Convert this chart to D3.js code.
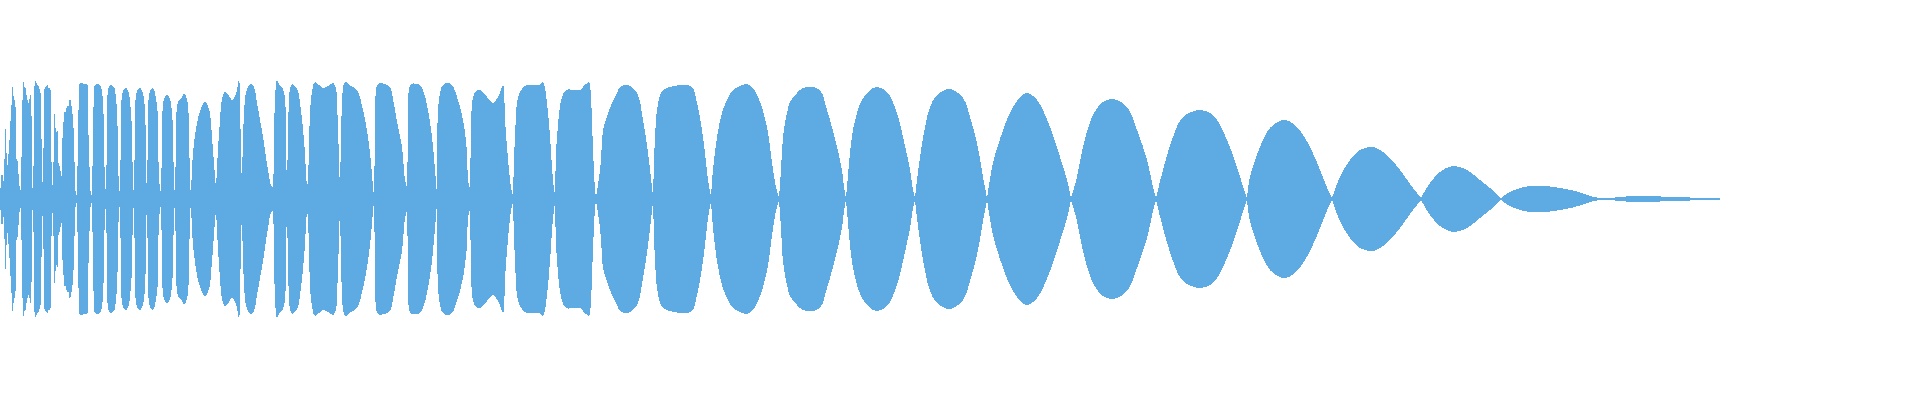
<!DOCTYPE html>
<html>
<head>
<meta charset="utf-8">
<style>
  html, body { margin: 0; padding: 0; background: #fff; }
  svg { display: block; }
</style>
</head>
<body>
<div id="wave"></div>
<script src="https://cdn.jsdelivr.net/npm/d3@7"></script>
<script>
// envelope peaks of the waveform, [time (ms), peak level]
const onset = [
  [0,8],[1,15],[2,32],[3,12],[4,25],[5,56],[6,77],[7,30],[8,40],[9,50],
  [10,69],[11,85],[12,102],[13,117],[14,95],[15,102],[16,60],[17,36],[18,40],[19,15],
  [20,12],[21,5],[22,70],[23,111],[24,119],[25,105],[26,116],[27,95],[28,102],[29,90],
  [30,106],[31,100],[32,19],[33,5],[34,60],[35,117],[36,119],[37,112],[38,116],[39,110],
  [40,109],[41,90],[42,29],[43,8],[44,80],[45,114],[46,110],[47,116],[48,112],[49,110],
  [50,112],[51,75],[52,20],[53,10],[54,60],[55,97],[56,50],[57,80],[58,52],[59,30],
  [60,36],[61,6],[62,40],[63,72],[64,80],[65,90],[66,85],[67,96],[68,90],[69,96],
  [70,100],[71,96],[72,90],[73,80],[74,60],[75,19],[76,5],[77,3],[78,60],[79,105],
  [80,116],[84,115],[87,115],[88,80],[89,50],[90,19],[91,5],[92,3]
];

const beats = [
  [93,60],[94,105],[95,114],[98,115],[101,112],[103,96],[104,60],[105,16],[106,5],
  [107,60],[108,108],[110,114],[114,112],[116,100],[117,89],[118,50],[119,12],[120,5],
  [121,60],[123,108],[126,111],[129,105],[131,85],[132,70],[133,15],[134,5],
  [135,60],[137,108],[140,111],[143,105],[145,89],[146,30],[147,5],
  [148,60],[150,108],[153,111],[156,100],[158,82],[159,20],[161,5],
  [162,50],[164,100],[167,104],[170,100],[172,85],[173,70],[174,15],[175,5],
  [176,50],[178,97],[181,100],[184,105],[187,100],[189,69],[190,16],[191,4],
  [193,46],[197,76],[200,88],[205,97],[209,90],[212,62],[214,35],[216,10],
  [218,50],[220,79],[222,100],[225,107],[229,103],[232,99],[236,105],[239,119],[240,100],[241,40],[242,15],
  [243,60],[245,100],[247,110],[251,115],[254,112],[257,96],[263,62],[268,29],[271,14],[273,12],
  [274,40],[275,100],[277,119],[280,113],[283,110],[285,100],[286,50],[287,9],
  [288,60],[290,110],[292,115],[295,113],[298,108],[300,96],[303,70],[305,46],[307,16],[308,15],
  [309,50],[311,100],[315,117],[319,114],[323,111],[328,113],[333,116],[336,110],[337,96],[339,40],[340,3],
  [341,60],[343,110],[345,117],[351,113],[357,109],[363,89],[367,68],[370,46],[373,12],[374,2],
  [375,60],[376,108],[378,115],[385,115],[390,112],[393,100],[395,89],[398,72],[402,52],[405,19],[407,12],
  [408,60],[409,110],[411,115],[420,114],[423,109],[428,89],[432,62],[435,29],[437,4],
  [439,100],[443,114],[448,116],[452,114],[457,102],[463,79],[467,46],[468,19],[470,10],
  [471,60],[473,102],[477,109],[480,109],[487,102],[493,96],[498,102],[503,114],[505,80],[508,40],[511,12],[513,3],
  [515,62],[518,102],[522,110],[527,114],[535,114],[540,114],[543,117],[547,96],[550,62],[553,19],[555,4],
  [557,62],[562,102],[566,109],[575,109],[580,109],[583,112],[586,115],[589,117],[591,100],[593,50],[595,10],[596,2]
];

const swells = [
  [600,29],[602,56],[603,69],[607,82],[610,91],[617,106],[620,112],[628,114],[637,106],[643,79],[648,46],[652,12],[653,2],
  [655,62],[657,89],[660,104],[663,109],[670,112],[683,114],[692,112],[697,96],[702,69],[705,46],[708,19],[711,2],
  [713,29],[717,62],[722,86],[727,99],[733,109],[740,113],[747,115],[752,112],[757,104],[760,97],[763,88],[767,72],[770,52],[773,29],[776,12],[779,1],
  [781,29],[783,62],[787,86],[790,97],[797,106],[803,111],[812,112],[820,109],[827,89],[830,79],[837,52],[842,29],[844,12],[846,1],
  [847,12],[850,46],[853,69],[857,86],[862,99],[870,109],[877,112],[887,107],[897,86],[903,62],[910,29],[913,9],[915,1],
  [917,19],[920,42],[925,72],[930,92],[937,104],[950,110],[963,101],[970,82],[977,56],[983,22],[987,1],
  [993,36],[1000,60],[1010,86],[1020,102],[1027,106],[1037,99],[1050,72],[1060,42],[1067,19],[1071,1],
  [1077,22],[1083,52],[1093,84],[1103,97],[1113,100],[1127,92],[1137,69],[1147,39],[1153,12],[1156,1]
];

const decay = [
  [1163,29],[1173,62],[1183,82],[1200,89],[1213,84],[1227,59],[1237,32],[1245,6],[1247,1],
  [1250,22],[1260,52],[1270,71],[1280,78],[1286,79],[1297,72],[1310,52],[1320,29],[1328,9],[1332,1],
  [1340,22],[1350,39],[1360,49],[1373,52],[1387,44],[1400,29],[1413,11],[1421,1],
  [1430,16],[1440,27],[1453,33],[1467,29],[1480,19],[1490,11],[1501,1],
  [1505,4],[1510,7],[1517,10],[1530,13],[1545,13],[1560,11],[1575,8],[1590,3],[1597,1.5],[1604,0.5],
  [1610,1],[1620,2],[1635,3],[1650,3],[1670,2],[1690,1.5],[1705,1],[1720,0.7]
];

const width = 1920, height = 400;
const mid = 199;

const data = onset.concat(beats, swells, decay);

// cut the envelope at its low points so each beat keeps a sharp waist
const lobes = [];
let cur = [data[0]];
for (let i = 1; i < data.length; i++) {
  cur.push(data[i]);
  const prev = data[i - 1][1], next = data[i + 1] ? data[i + 1][1] : Infinity;
  if (data[i][1] < 20 && data[i][1] <= prev && data[i][1] <= next) {
    lobes.push(cur);
    cur = [data[i]];
  }
}
if (cur.length > 1) lobes.push(cur);

const x = d3.scaleLinear()
    .domain([0, 1920])
    .range([0, width]);

// 8-bit style levels, full scale 128
const y = d3.scaleLinear()
    .domain([-128, 128])
    .range([mid + 128, mid - 128]);

const area = d3.area()
    .x(d => x(d[0]))
    .y0(d => y(-Math.max(0, d[1])))
    .y1(d => y(Math.max(0, d[1])))
    .curve(d3.curveCatmullRom.alpha(0.5));

const svg = d3.create("svg")
    .attr("width", width)
    .attr("height", height)
    .attr("viewBox", [0, 0, width, height]);

svg.append("g")
    .attr("fill", "#5dabe2")
    .attr("shape-rendering", "crispEdges")
  .selectAll("path")
  .data(lobes)
  .join("path")
    .attr("d", area);

document.getElementById("wave").appendChild(svg.node());
</script>
</body>
</html>
